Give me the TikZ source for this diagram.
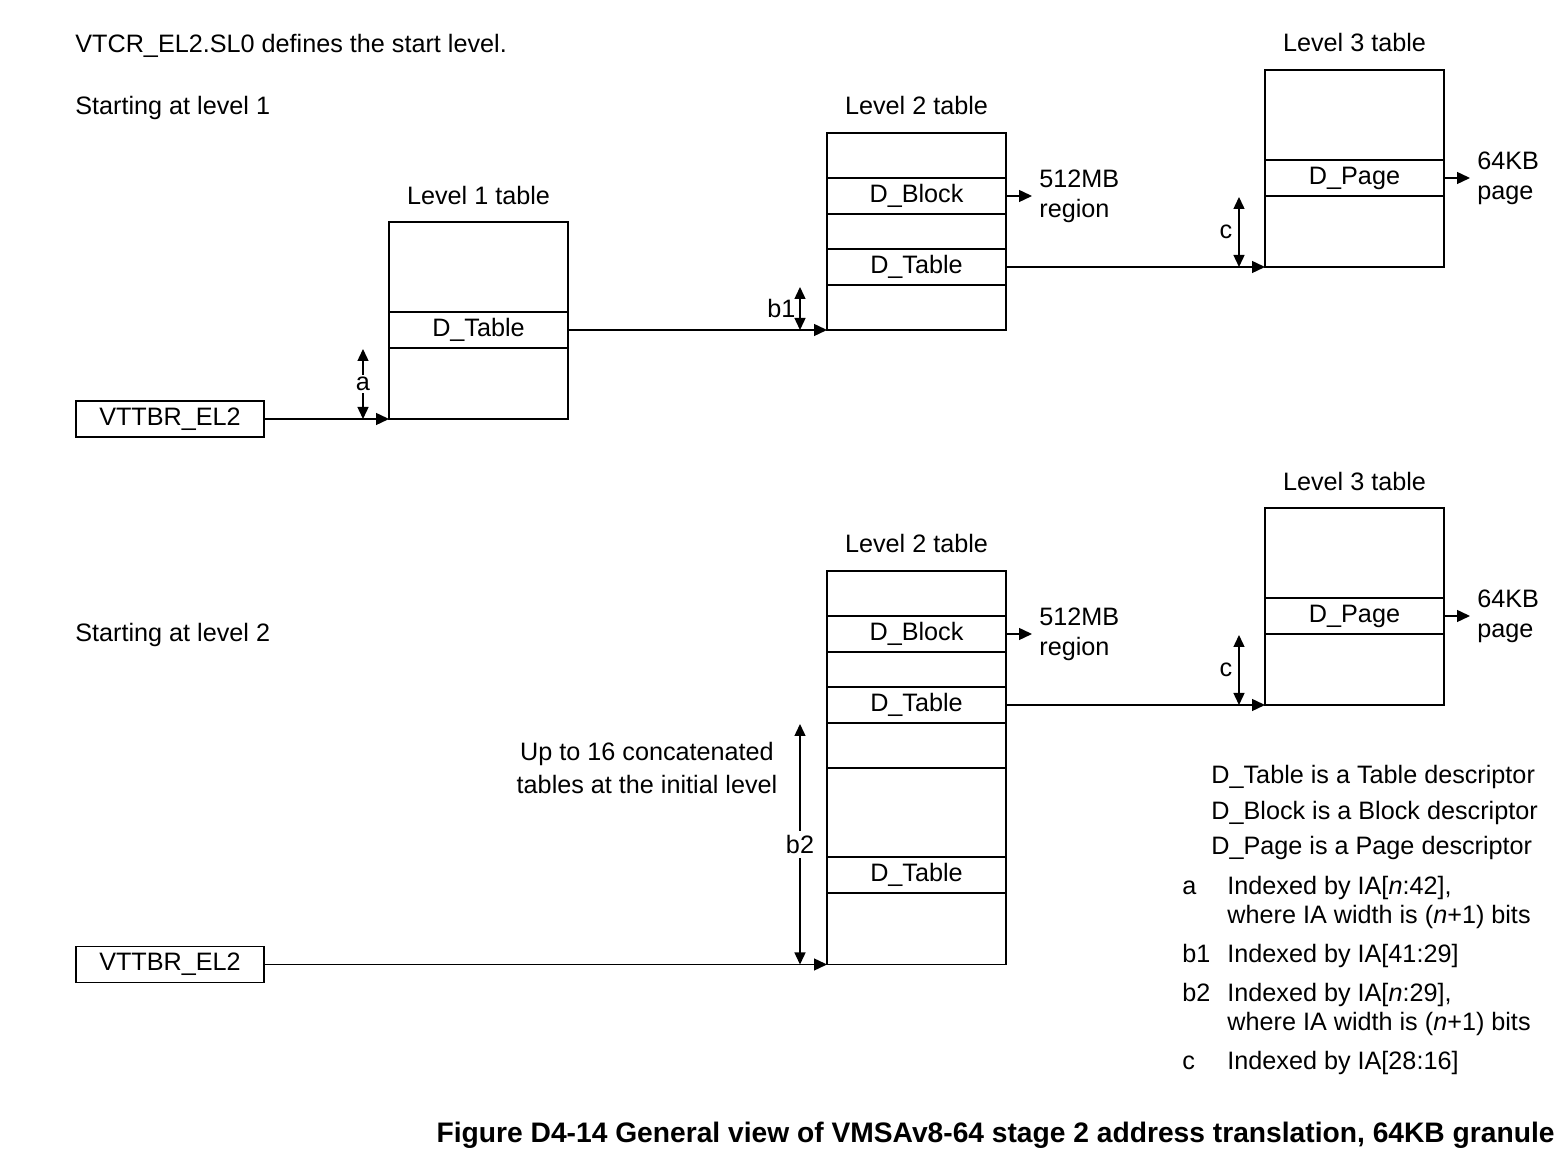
\documentclass[tikz,border=0pt]{standalone}
\usepackage{fontspec}
\setmainfont{Liberation Sans}
\usetikzlibrary{arrows.meta,positioning}

\tikzset{
  tbl/.style={draw, line width=0.8pt, minimum width=89.5pt, minimum height=98.5pt, inner sep=0pt, outer sep=0pt},
  entry/.style={draw, line width=0.8pt, minimum width=89.5pt, minimum height=18pt, inner sep=0pt, outer sep=0pt},
  reg/.style={draw, line width=0.8pt, minimum width=94pt, minimum height=18pt, inner sep=0pt, outer sep=0pt},
  txt/.style={inner sep=0pt, anchor=base west},
  side/.style={align=left, anchor=west, inner sep=3.5pt},
  ptr/.style={-{Triangle[length=6.5pt,width=6pt]}, line width=0.7pt},
  idx/.style={{Triangle[length=6pt,width=5.5pt]}-{Triangle[length=6pt,width=5.5pt]}, line width=0.7pt},
}

\begin{document}
\begin{tikzpicture}[x=0.5pt, y=-0.5pt, font=\fontsize{12.6}{15}\selectfont]
  \useasboundingbox (0,0) rectangle (1560,1170);

  % header texts
  \node[txt] (hdr) at (75,53) {VTCR\_EL2.SL0 defines the start level.};
  \node[txt] (st1) at (75,115) {Starting at level 1};
  \node[txt] (st2) at (75,642) {Starting at level 2};

  % starting at level 1
  \node[reg] (ttbr1) at (170,419) {VTTBR\_EL2};
  \node[tbl] (l1) at (478.5,320.5) {};
  \node[entry] (l1t) at (478.5,330) {D\_Table};
  \node (l1n) at (478.5,195) {Level 1 table};

  \node[tbl] (l2) at (916.5,231.5) {};
  \node[entry] (l2b) at (916.5,196) {D\_Block};
  \node[entry] (l2t) at (916.5,267) {D\_Table};
  \node (l2n) at (916.5,106) {Level 2 table};

  \node[tbl] (l3) at (1354.5,168.5) {};
  \node[entry] (l3p) at (1354.5,178) {D\_Page};
  \node (l3n) at (1354.5,43) {Level 3 table};

  \node[side] (mb1) at (1032,196) {512MB\\region};
  \node[side] (kb1) at (1470,178) {64KB\\page};

  \draw[ptr] (ttbr1.east) -- (l1.south west);
  \draw[ptr] (l1t.east) -- (l2.south west);
  \draw[ptr] (l2t.east) -- (l3.south west);
  \draw[ptr] (l2b.east) -- (mb1.west);
  \draw[ptr] (l3p.east) -- (kb1.west);

  \coordinate (a1) at (363,349);
  \coordinate (a2) at (363,419);
  \draw[idx] (a1) -- (a2) node[midway, fill=white, inner sep=1pt] {a};
  \coordinate (b1a) at (800,287);
  \coordinate (b1b) at (800,330);
  \draw[idx] (b1a) -- (b1b) node[midway, left, inner sep=2pt] {b1};
  \coordinate (c1a) at (1239,197);
  \coordinate (c1b) at (1239,267);
  \draw[idx] (c1a) -- (c1b) node[midway, left, inner sep=3pt] {c};

  % starting at level 2
  \node[reg] (ttbr2) at (170,964.5) {VTTBR\_EL2};
  \node[tbl] (m2) at (916.5,669.5) {};
  \node[entry] (m2b) at (916.5,634) {D\_Block};
  \node[entry] (m2t) at (916.5,705) {D\_Table};
  \node[tbl] (m2x) at (916.5,866) {};
  \node[entry] (m2xt) at (916.5,875) {D\_Table};
  \node (m2n) at (916.5,543) {Level 2 table};

  \node[tbl] (m3) at (1354.5,606.5) {};
  \node[entry] (m3p) at (1354.5,616) {D\_Page};
  \node (m3n) at (1354.5,481) {Level 3 table};

  \node[side] (mb2) at (1032,634) {512MB\\region};
  \node[side] (kb2) at (1470,616) {64KB\\page};
  \node[align=center, font=\fontsize{12.6}{16.5}\selectfont] (cat) at (647,767.5) {Up to 16 concatenated\\tables at the initial level};

  \draw[ptr] (ttbr2.east) -- (m2x.south west);
  \draw[ptr] (m2t.east) -- (m3.south west);
  \draw[ptr] (m2b.east) -- (mb2.west);
  \draw[ptr] (m3p.east) -- (kb2.west);

  \coordinate (b2a) at (800,724);
  \coordinate (b2b) at (800,964.5);
  \draw[idx] (b2a) -- (b2b) node[midway, fill=white, inner sep=2pt] {b2};
  \coordinate (c2a) at (1239,635);
  \coordinate (c2b) at (1239,705);
  \draw[idx] (c2a) -- (c2b) node[midway, left, inner sep=3pt] {c};

  % key
  \node[txt] (k1) at (1211,784) {D\_Table is a Table descriptor};
  \node[txt] (k2) at (1211,820) {D\_Block is a Block descriptor};
  \node[txt] (k3) at (1211,855) {D\_Page is a Page descriptor};
  \node[txt] (k4) at (1182,895) {a};
  \node[txt] (k4a) at (1227,895) {Indexed by IA[\textit{n}:42],};
  \node[txt] (k4b) at (1227,924) {where IA width is (\textit{n}+1) bits};
  \node[txt] (k5) at (1182,963) {b1};
  \node[txt] (k5a) at (1227,963) {Indexed by IA[41:29]};
  \node[txt] (k6) at (1182,1001) {b2};
  \node[txt] (k6a) at (1227,1001) {Indexed by IA[\textit{n}:29],};
  \node[txt] (k6b) at (1227,1030) {where IA width is (\textit{n}+1) bits};
  \node[txt] (k7) at (1182,1070) {c};
  \node[txt] (k7a) at (1227,1070) {Indexed by IA[28:16]};

  \node[inner sep=0pt, anchor=base east, font=\fontsize{14.1}{17}\selectfont\bfseries] (cap) at (1555,1142)
    {Figure D4-14 General view of VMSAv8-64 stage 2 address translation, 64KB granule};
\end{tikzpicture}
\end{document}
